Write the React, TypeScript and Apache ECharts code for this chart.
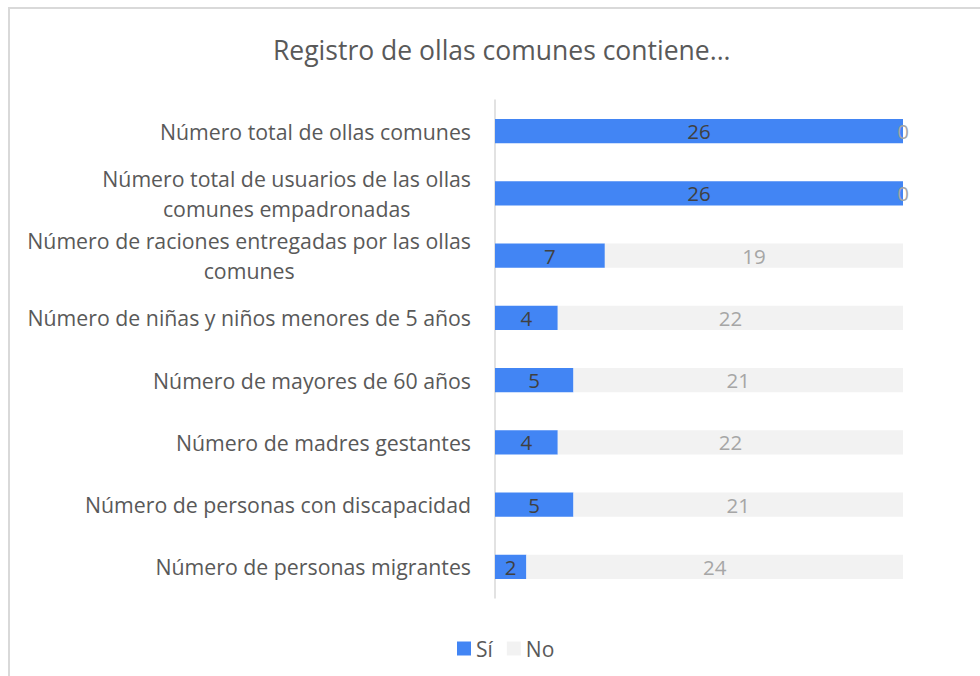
import React, { useEffect, useRef } from "react";
import * as echarts from "echarts";

const categories = [
  "Número total de ollas comunes",
  "Número total de usuarios de las ollas\ncomunes empadronadas",
  "Número de raciones entregadas por las ollas\ncomunes",
  "Número de niñas y niños menores de 5 años",
  "Número de mayores de 60 años",
  "Número de madres gestantes",
  "Número de personas con discapacidad",
  "Número de personas migrantes",
];
const siValues = [26, 26, 7, 4, 5, 4, 5, 2];
const noValues = [0, 0, 19, 22, 21, 22, 21, 24];
const seriesNames = ["Sí", "No"];
const titleText = "Registro de ollas comunes contiene...";

const FONT = "'Open Sans', Lato, sans-serif";

export default function App() {
  const ref = useRef<HTMLDivElement>(null);
  useEffect(() => {
    if (!ref.current) return;
    const chart = echarts.init(ref.current, null, { renderer: "svg" });
    chart.setOption({
      animation: false,
      backgroundColor: "#fff",
      graphic: [
        {
          type: "rect",
          shape: { x: 9, y: 8, width: 1000, height: 720 },
          style: { fill: "none", stroke: "#D9D9D9", lineWidth: 2 },
          silent: true,
          z: -1,
        },
      ],
      title: {
        text: titleText,
        left: 268,
        top: 31,
        textStyle: { fontFamily: FONT, fontSize: 26.5, fontWeight: "normal", color: "#595959" },
      },
      legend: {
        bottom: 12,
        left: 452,
        itemWidth: 14,
        itemHeight: 14,
        itemGap: 14,
        icon: "rect",
        textStyle: { fontFamily: FONT, fontSize: 21, color: "#595959" },
        data: seriesNames,
      },
      grid: { left: 495, right: 77, top: 100, bottom: 78, containLabel: false },
      xAxis: { type: "value", min: 0, max: 26, show: false },
      yAxis: {
        type: "category",
        inverse: true,
        data: categories,
        axisLine: { show: true, lineStyle: { color: "#D9D9D9", width: 1.5 } },
        axisTick: { show: false },
        axisLabel: {
          margin: 24,
          align: "right",
          formatter: (v: string) => v.split("\n").map((l) => `{c|${l}}`).join("\n"),
          rich: {
            c: { align: "center", fontFamily: FONT, fontSize: 21.3, color: "#595959", lineHeight: 30 },
          },
        },
      },
      series: [
        {
          name: seriesNames[0],
          type: "bar",
          stack: "t",
          data: siValues,
          barWidth: "39%",
          itemStyle: { color: "#4285F4" },
          label: { show: true, position: "inside", fontFamily: FONT, fontSize: 20.5, color: "#404040" },
        },
        {
          name: seriesNames[1],
          type: "bar",
          stack: "t",
          data: noValues,
          barWidth: "39%",
          itemStyle: { color: "#F2F2F2" },
          label: { show: true, position: "inside", fontFamily: FONT, fontSize: 20.5, color: "#A6A6A6" },
        },
      ],
    });
    return () => chart.dispose();
  }, []);
  return (
    <div
      ref={ref}
      style={{ position: "absolute", left: 0, top: 0, width: 980, height: 676 }}
    />
  );
}
